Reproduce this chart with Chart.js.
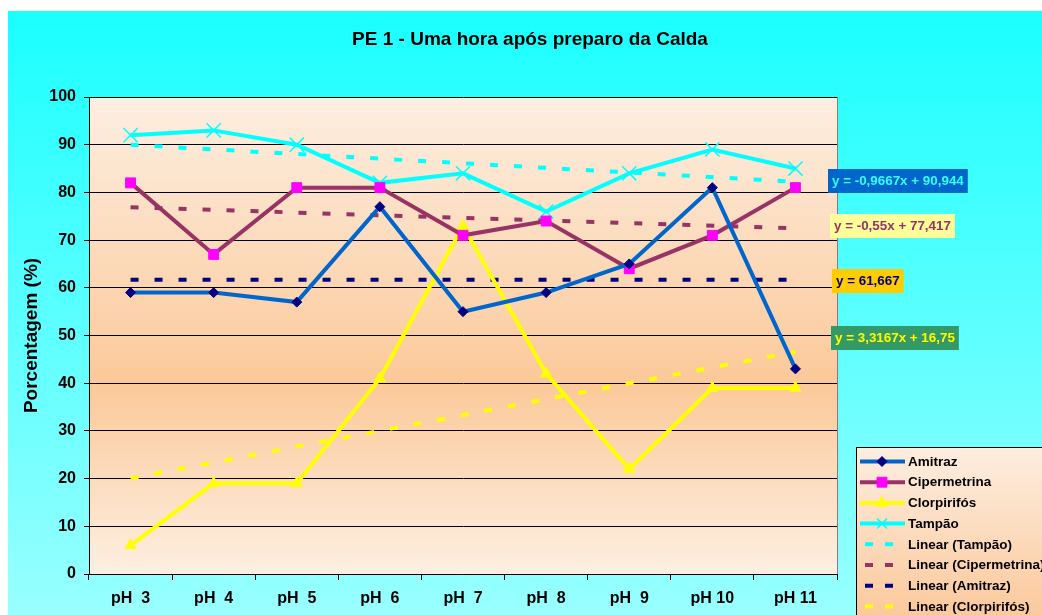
<!DOCTYPE html>
<html>
<head>
<meta charset="utf-8">
<script src="https://cdn.jsdelivr.net/npm/chart.js@4"></script>
<style>
  html, body { margin: 0; padding: 0; background: #fff; }
</style>
</head>
<body>
<canvas id="myChart" width="1042" height="615"></canvas>
<script>
const chartTitle = "PE 1 - Uma hora após preparo da Calda";
const categories = ["pH  3", "pH  4", "pH  5", "pH  6", "pH  7", "pH  8", "pH  9", "pH 10", "pH 11"];
const amitraz = [59, 59, 57, 77, 55, 59, 65, 81, 43];
const cipermetrina = [82, 67, 81, 81, 71, 74, 64, 71, 81];
const clorpirifos = [6, 19, 19, 41, 73, 42, 22, 39, 39];
const tampao = [92, 93, 90, 82, 84, 76, 84, 89, 85];

// trend lines: only first and last value, the line spans the gap
const trendTampao = [89.98, null, null, null, null, null, null, null, 82.24];
const trendCipermetrina = [76.87, null, null, null, null, null, null, null, 72.47];
const trendAmitraz = [61.667, null, null, null, null, null, null, null, 61.667];
const trendClorpirifos = [20.07, null, null, null, null, null, null, null, 46.6];

const equations = ["y = -0,9667x + 90,944", "y = -0,55x + 77,417", "y = 61,667", "y = 3,3167x + 16,75"];

Chart.defaults.font.family = "'Liberation Sans', Arial, sans-serif";
Chart.defaults.color = "#000";

const FONT = "'Liberation Sans', Arial, sans-serif";

const backgroundPlugin = {
  id: "background",
  beforeDraw(chart) {
    const ctx = chart.ctx;
    const area = chart.chartArea;
    ctx.save();
    ctx.fillStyle = "#fff";
    ctx.fillRect(0, 0, chart.width, chart.height);
    const bg = ctx.createLinearGradient(0, 11, 0, chart.height);
    bg.addColorStop(0, "#1affff");
    bg.addColorStop(1, "#99ffff");
    ctx.fillStyle = bg;
    ctx.fillRect(8, 11, chart.width - 8, chart.height - 11);

    const plot = ctx.createLinearGradient(0, area.top, 0, area.bottom);
    plot.addColorStop(0, "#fdefe2");
    plot.addColorStop(0.6, "#fbc999");
    plot.addColorStop(1, "#fdefe2");
    ctx.fillStyle = plot;
    ctx.fillRect(area.left, area.top, area.right - area.left, area.bottom - area.top);
    ctx.restore();
  },
  beforeDatasetsDraw(chart) {
    const ctx = chart.ctx;
    const area = chart.chartArea;
    ctx.save();
    ctx.strokeStyle = "#808080";
    ctx.lineWidth = 1;
    ctx.beginPath();
    ctx.moveTo(area.right + 0.5, area.top);
    ctx.lineTo(area.right + 0.5, area.bottom);
    ctx.stroke();
    ctx.restore();
  },
  afterDraw(chart) {
    const ctx = chart.ctx;
    ctx.save();
    // title
    ctx.fillStyle = "#000";
    ctx.font = "bold 19px " + FONT;
    ctx.textAlign = "center";
    ctx.textBaseline = "middle";
    ctx.fillText(chartTitle, 530, 40);

    // trendline equation labels
    const boxes = [
      { x: 828, y: 169, bg: "#0066cc", fg: "#33ffff" },
      { x: 830, y: 214, bg: "#ffff99", fg: "#993366" },
      { x: 832, y: 269, bg: "#ffcc00", fg: "#000080" },
      { x: 831, y: 326, bg: "#339966", fg: "#ffff00" },
    ];
    ctx.font = "bold 13.4px " + FONT;
    ctx.textAlign = "left";
    equations.forEach((eq, i) => {
      const b = boxes[i];
      const w = ctx.measureText(eq).width + 8;
      ctx.fillStyle = b.bg;
      ctx.fillRect(b.x, b.y, w, 24);
      ctx.fillStyle = b.fg;
      ctx.fillText(eq, b.x + 4, b.y + 12.5);
    });

    // legend
    const lx = 856.5, ly = 447.5;
    const lg = ctx.createLinearGradient(0, ly, 0, chart.height);
    lg.addColorStop(0, "#fdeee0");
    lg.addColorStop(1, "#fbc99c");
    ctx.fillStyle = lg;
    ctx.fillRect(lx, ly, 200, 200);
    ctx.strokeStyle = "#000";
    ctx.lineWidth = 1;
    ctx.strokeRect(lx, ly, 200, 200);

    chart.data.datasets.forEach((ds, i) => {
      const y = 461.5 + i * 20.7;
      ctx.save();
      ctx.strokeStyle = ds.borderColor;
      ctx.lineWidth = 4;
      ctx.beginPath();
      if (ds.borderDash) {
        ctx.setLineDash([8, 12]);
        ctx.moveTo(865, y);
        ctx.lineTo(893, y);
      } else {
        ctx.moveTo(860, y);
        ctx.lineTo(905, y);
      }
      ctx.stroke();
      ctx.setLineDash([]);
      if (!ds.borderDash) {
        const r = ds.pointStyle === "crossRot" ? 7 : ds.pointRadius;
        ctx.fillStyle = ds.pointBackgroundColor;
        ctx.strokeStyle = ds.pointBorderColor;
        ctx.lineWidth = ds.pointBorderWidth;
        Chart.helpers.drawPoint(ctx, {
          pointStyle: ds.pointStyle,
          radius: r,
          borderWidth: ds.pointBorderWidth,
          rotation: 0
        }, 882, y);
      }
      ctx.restore();
      ctx.fillStyle = "#000";
      ctx.font = "bold 13.5px " + FONT;
      ctx.textBaseline = "middle";
      ctx.fillText(ds.label, 908, y + 0.5);
    });
    ctx.restore();
  }
};

function series(label, data, color, markerColor, style, radius) {
  return {
    label: label,
    data: data,
    borderColor: color,
    backgroundColor: color,
    borderWidth: 4,
    pointStyle: style,
    pointRadius: radius,
    pointHoverRadius: radius,
    pointBackgroundColor: markerColor,
    pointBorderColor: markerColor,
    pointBorderWidth: style === "crossRot" ? 1.5 : 1,
    tension: 0
  };
}

function trend(label, data, color) {
  return {
    label: label,
    data: data,
    borderColor: color,
    backgroundColor: color,
    borderWidth: 4,
    borderDash: [8, 16],
    borderCapStyle: "butt",
    pointRadius: 0,
    spanGaps: true,
    tension: 0
  };
}

const ctx = document.getElementById("myChart").getContext("2d");
const myChart = new Chart(ctx, {
  type: "line",
  data: {
    labels: categories,
    datasets: [
      series("Amitraz", amitraz, "#0066cc", "#000080", "rectRot", 5),
      series("Cipermetrina", cipermetrina, "#993366", "#ff00ff", "rect", 7),
      series("Clorpirifós", clorpirifos, "#ffff00", "#ffff00", "triangle", 6.5),
      series("Tampão", tampao, "#00ffff", "#00ffff", "crossRot", 10),
      trend("Linear (Tampão)", trendTampao, "#00ffff"),
      trend("Linear (Cipermetrina)", trendCipermetrina, "#993366"),
      trend("Linear (Amitraz)", trendAmitraz, "#000080"),
      trend("Linear (Clorpirifós)", trendClorpirifos, "#ffff00"),
    ],
  },
  options: {
    responsive: false,
    devicePixelRatio: 1,
    animation: false,
    layout: { padding: { top: 97, right: 205, left: 0, bottom: 0 } },
    plugins: {
      legend: { display: false },
      title: { display: false },
      tooltip: { enabled: false },
    },
    scales: {
      x: {
        type: "category",
        offset: true,
        afterFit: (scale) => { scale.height = 41; },
        grid: { offset: true, drawOnChartArea: false, drawTicks: true, tickLength: 6, color: "#000" },
        border: { color: "#000", width: 1 },
        ticks: { font: { size: 16, weight: "bold" }, color: "#000", padding: 9, maxRotation: 0 },
      },
      y: {
        min: 0,
        max: 100,
        afterFit: (scale) => { scale.width = 89; },
        grid: { color: "#000", lineWidth: 1, tickLength: 5 },
        border: { color: "#000", width: 1 },
        ticks: { stepSize: 10, font: { size: 16, weight: "bold" }, color: "#000", padding: 8 },
        title: {
          display: true,
          text: "Porcentagem (%)",
          font: { size: 19, weight: "bold" },
          color: "#000",
          padding: { top: 20, bottom: 0 },
        },
      },
    },
  },
  plugins: [backgroundPlugin],
});
</script>
</body>
</html>
